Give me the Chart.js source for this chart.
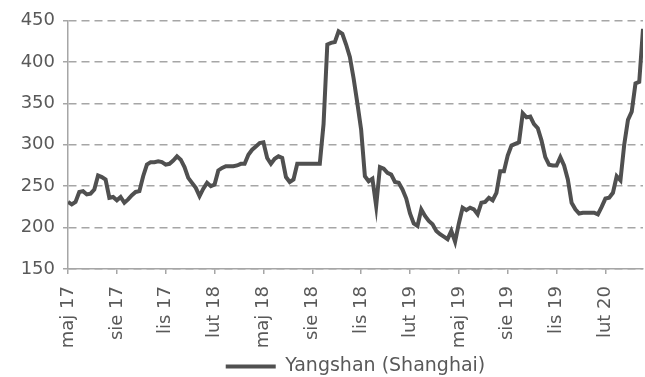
<!DOCTYPE html>
<html lang="pl">
<head>
    <meta charset="UTF-8">
    <title>Yangshan (Shanghai)</title>
    <script src="https://cdn.jsdelivr.net/npm/chart.js"></script>
    <style>
        html, body { margin: 0; padding: 0; background: #fff; }
        #wrap { width: 645px; height: 377px; }
    </style>
</head>
<body>
<div id="wrap">
    <canvas id="chart" width="645" height="377"></canvas>
</div>
<script>
    // weekly values, May 2017 - Apr 2020
    const seriesName = 'Yangshan (Shanghai)';
    const yangshan = [
        231, 228, 231, 243, 244, 240, 241, 246, 263, 261,
        258, 236, 237, 233, 237, 230, 234, 239, 243, 244,
        262, 276, 279, 279, 280, 279, 276, 277, 281, 286,
        282, 273, 260, 254, 248, 238, 247, 254, 250, 252,
        269, 272, 274, 274, 274, 275, 277, 277, 288, 294,
        298, 302, 303, 284, 277, 283, 286, 284, 261, 255,
        258, 277, 277, 277, 277, 277, 277, 277, 325, 421,
        423, 424, 437, 434, 421, 406, 380, 350, 318, 262,
        256, 259, 226, 273, 271, 266, 264, 255, 254, 246,
        235, 217, 205, 202, 222, 214, 208, 204, 196, 192,
        189, 186, 196, 183, 205, 224, 221, 224, 222, 216,
        230, 231, 236, 233, 242, 268, 268, 287, 299, 301,
        303, 338, 333, 334, 325, 320, 305, 285, 276, 275,
        275, 285, 275, 258, 230, 222, 217, 218, 218, 218,
        218, 216, 225, 235, 236, 242, 262, 257, 300, 330,
        340, 374, 376, 440
    ];
    const tickPositions = [0, 13, 26, 39, 52, 65, 78, 91, 104, 117, 130, 143];
    const tickLabels = ['maj 17', 'sie 17', 'lis 17', 'lut 18', 'maj 18', 'sie 18',
        'lis 18', 'lut 19', 'maj 19', 'sie 19', 'lis 19', 'lut 20'];

    const axisGray = '#a6a6a6';
    const textGray = '#595959';
    const font = { family: 'DejaVu Sans', size: 18 };

    new Chart(document.getElementById('chart'), {
        type: 'line',
        data: {
            datasets: [{
                label: seriesName,
                data: yangshan.map((v, i) => ({ x: i, y: v })),
                borderColor: '#505050',
                backgroundColor: '#505050',
                borderWidth: 4,
                pointRadius: 0,
                tension: 0,
                fill: false
            }]
        },
        options: {
            responsive: false,
            animation: false,
            // negative bottom padding lets the legend sit low like the original
            layout: { padding: { top: 20.5, right: 2, left: 0, bottom: -9 } },
            plugins: {
                tooltip: { enabled: false },
                legend: {
                    position: 'bottom',
                    fullSize: false,
                    labels: {
                        usePointStyle: true,
                        pointStyle: 'line',
                        pointStyleWidth: 50,
                        color: textGray,
                        font: { family: 'DejaVu Sans', size: 19 },
                        padding: 2
                    }
                }
            },
            scales: {
                x: {
                    type: 'linear',
                    min: 0,
                    max: yangshan.length - 1,
                    afterBuildTicks: scale => {
                        scale.ticks = tickPositions.map(v => ({ value: v }));
                    },
                    afterFit: scale => { scale.height = 86; },
                    ticks: {
                        callback: (value, index) => tickLabels[index],
                        minRotation: 90,
                        maxRotation: 90,
                        color: textGray,
                        font: font,
                        padding: 12,
                        autoSkip: false
                    },
                    grid: {
                        drawOnChartArea: false,
                        drawTicks: true,
                        tickLength: 5,
                        color: axisGray,
                        lineWidth: 1.5
                    },
                    border: { color: axisGray, width: 1.5 }
                },
                y: {
                    min: 150,
                    max: 450,
                    afterFit: scale => { scale.width = 68; },
                    ticks: {
                        stepSize: 50,
                        color: textGray,
                        font: font,
                        padding: 8
                    },
                    grid: {
                        display: true,
                        drawOnChartArea: true,
                        color: axisGray,
                        lineWidth: 1.5,
                        tickLength: 5,
                        tickBorderDash: [],
                        tickColor: axisGray
                    },
                    border: { color: axisGray, width: 1.5, dash: [8, 5] }
                }
            }
        }
    });
</script>
</body>
</html>
